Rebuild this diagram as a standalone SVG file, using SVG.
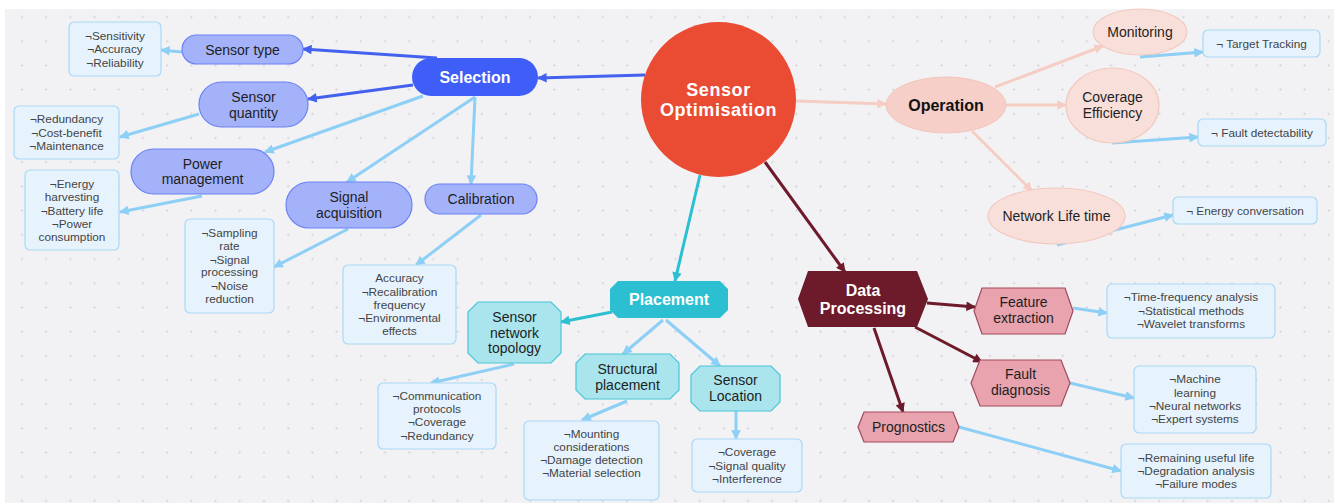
<svg xmlns="http://www.w3.org/2000/svg" width="1334" height="503" viewBox="0 0 1334 503">
<defs>
<pattern id="dots" x="9.9" y="4.9" width="24.2" height="24.2" patternUnits="userSpaceOnUse">
<circle cx="12.1" cy="12.1" r="1" fill="#cacad2"/>
</pattern>
<marker id="aBlue" viewBox="0 0 10 10" refX="9" refY="5" markerWidth="3.6" markerHeight="3.2" orient="auto"><path d="M0,0 L10,5 L0,10 z" fill="#4361ee"/></marker>
<marker id="aLight" viewBox="0 0 10 10" refX="9" refY="5" markerWidth="3.6" markerHeight="3.2" orient="auto"><path d="M0,0 L10,5 L0,10 z" fill="#8dcff5"/></marker>
<marker id="aTeal" viewBox="0 0 10 10" refX="9" refY="5" markerWidth="3.6" markerHeight="3.2" orient="auto"><path d="M0,0 L10,5 L0,10 z" fill="#2bbfd1"/></marker>
<marker id="aMaroon" viewBox="0 0 10 10" refX="9" refY="5" markerWidth="3.6" markerHeight="3.2" orient="auto"><path d="M0,0 L10,5 L0,10 z" fill="#6d1a2b"/></marker>
<marker id="aSalmon" viewBox="0 0 10 10" refX="9" refY="5" markerWidth="3.6" markerHeight="3.2" orient="auto"><path d="M0,0 L10,5 L0,10 z" fill="#f6cdc2"/></marker>
</defs>
<style>
text{font-family:"Liberation Sans",Arial,sans-serif;text-anchor:middle}
.e{fill:none;stroke-width:3;stroke-linecap:butt}
.blue{stroke:#4361ee;marker-end:url(#aBlue)}
.light{stroke:#8dcff5;marker-end:url(#aLight)}
.teal{stroke:#2bbfd1;marker-end:url(#aTeal)}
.maroon{stroke:#6d1a2b;marker-end:url(#aMaroon)}
.salmon{stroke:#f6cdc2;marker-end:url(#aSalmon)}
.pill{fill:#a4b2fa;stroke:#6c82f4;stroke-width:1.2}
.leaf{fill:#e6f3fd;stroke:#a9d8f6;stroke-width:1.2}
.oct{fill:#aae5ed;stroke:#48c6d6;stroke-width:1.2}
.hex{fill:#e8a3ae;stroke:#a2495b;stroke-width:1.2}
.ell{fill:#f8dfd9;stroke:#f3c9bf;stroke-width:1.2}
.t14{font-size:14px;fill:#1e1e1e}
.t12{font-size:11.8px;fill:#444}
.tb{font-size:16px;font-weight:bold;fill:#fff}
</style>
<rect x="0" y="0" width="1334" height="503" fill="#ffffff"/>
<rect x="5" y="9" width="1329" height="494" fill="#f2f2f5"/>
<rect x="5" y="9" width="1329" height="494" fill="url(#dots)"/>

<g id="connectors">
<line class="e blue" x1="645" y1="75" x2="538" y2="78"/>
<line class="e blue" x1="437" y1="58" x2="303" y2="49"/>
<line class="e blue" x1="413" y1="85" x2="308" y2="99"/>
<line class="e light" x1="423" y1="96" x2="265" y2="152"/>
<line class="e light" x1="475" y1="97" x2="347" y2="182"/>
<line class="e light" x1="475" y1="97" x2="471" y2="184"/>
<line class="e light" x1="182" y1="52" x2="161" y2="50"/>
<line class="e light" x1="199" y1="114" x2="120" y2="137"/>
<line class="e light" x1="202" y1="196" x2="120" y2="212"/>
<line class="e light" x1="348" y1="229" x2="274" y2="267"/>
<line class="e light" x1="481" y1="215" x2="416" y2="265"/>
<line class="e teal" x1="700" y1="175" x2="675" y2="281"/>
<line class="e teal" x1="612" y1="312" x2="561" y2="322"/>
<line class="e light" x1="663" y1="320" x2="623" y2="354"/>
<line class="e light" x1="666" y1="320" x2="720" y2="366"/>
<line class="e light" x1="514" y1="364" x2="431" y2="383"/>
<line class="e light" x1="627" y1="401" x2="582" y2="420"/>
<line class="e light" x1="736" y1="411" x2="736" y2="439"/>
<line class="e salmon" x1="796" y1="101" x2="886" y2="104"/>
<line class="e salmon" x1="995" y1="87" x2="1103" y2="46"/>
<line class="e salmon" x1="1006" y1="105" x2="1066" y2="105"/>
<line class="e salmon" x1="972" y1="131" x2="1032" y2="191"/>
<line class="e light" x1="1140" y1="57" x2="1203" y2="52"/>
<line class="e light" x1="1112" y1="143" x2="1198" y2="137"/>
<line class="e light" x1="1057" y1="245" x2="1173" y2="215"/>
<line class="e maroon" x1="765" y1="162" x2="845" y2="272"/>
<line class="e maroon" x1="927" y1="303" x2="975" y2="307"/>
<line class="e maroon" x1="915" y1="327" x2="982" y2="362"/>
<line class="e maroon" x1="874" y1="328" x2="903" y2="412"/>
<line class="e light" x1="1073" y1="308" x2="1107" y2="313"/>
<line class="e light" x1="1070" y1="383" x2="1134" y2="398"/>
<line class="e light" x1="959" y1="427" x2="1121" y2="471"/>
</g>

<g id="sensor-optimisation">
<circle cx="718.5" cy="99.5" r="77.5" fill="#ea4b33"/>
<text x="718.5" y="95.5" style="font-size:18px;font-weight:bold;fill:#fff;letter-spacing:0.6px">Sensor</text>
<text x="718.5" y="115.5" style="font-size:18px;font-weight:bold;fill:#fff;letter-spacing:0.6px">Optimisation</text>
</g>

<g id="selection">
<rect x="412" y="58" width="126" height="38" rx="19" fill="#3f5ef7"/>
<text class="tb" x="475" y="83">Selection</text>
</g>
<g id="sensor-type">
<rect class="pill" x="182" y="35" width="121" height="29" rx="14.5"/>
<text class="t14" x="242.5" y="54.5">Sensor type</text>
</g>
<g id="sensor-quantity">
<rect class="pill" x="199" y="82" width="109" height="45" rx="22.5"/>
<text class="t14" x="253.5" y="102">Sensor</text>
<text class="t14" x="253.5" y="117.5">quantity</text>
</g>
<g id="power-management">
<rect class="pill" x="131" y="149" width="143" height="45" rx="22.5"/>
<text class="t14" x="202.5" y="168.5">Power</text>
<text class="t14" x="202.5" y="184">management</text>
</g>
<g id="signal-acquisition">
<rect class="pill" x="286" y="182" width="126" height="46" rx="23"/>
<text class="t14" x="349" y="202">Signal</text>
<text class="t14" x="349" y="217.5">acquisition</text>
</g>
<g id="calibration">
<rect class="pill" x="425" y="184" width="112" height="30" rx="15"/>
<text class="t14" x="481" y="204">Calibration</text>
</g>
<g id="leaf-sensor-type">
<rect class="leaf" x="69" y="22" width="92" height="54" rx="5"/>
<text class="t12" x="115" y="40">¬Sensitivity</text>
<text class="t12" x="115" y="53">¬Accuracy</text>
<text class="t12" x="115" y="66.5">¬Reliability</text>
</g>
<g id="leaf-sensor-quantity">
<rect class="leaf" x="14" y="106" width="105" height="53" rx="5"/>
<text class="t12" x="66.5" y="123">¬Redundancy</text>
<text class="t12" x="66.5" y="136.5">¬Cost-benefit</text>
<text class="t12" x="66.5" y="150">¬Maintenance</text>
</g>
<g id="leaf-power">
<rect class="leaf" x="25" y="170" width="94" height="80" rx="5"/>
<text class="t12" x="72" y="188">¬Energy</text>
<text class="t12" x="72" y="201">harvesting</text>
<text class="t12" x="72" y="214.5">¬Battery life</text>
<text class="t12" x="72" y="228">¬Power</text>
<text class="t12" x="72" y="241">consumption</text>
</g>
<g id="leaf-signal">
<rect class="leaf" x="185" y="219" width="89" height="94" rx="5"/>
<text class="t12" x="229.5" y="237">¬Sampling</text>
<text class="t12" x="229.5" y="250">rate</text>
<text class="t12" x="229.5" y="263.5">¬Signal</text>
<text class="t12" x="229.5" y="276">processing</text>
<text class="t12" x="229.5" y="289.5">¬Noise</text>
<text class="t12" x="229.5" y="302.5">reduction</text>
</g>
<g id="leaf-calibration">
<rect class="leaf" x="343" y="265" width="113" height="79" rx="5"/>
<text class="t12" x="399.5" y="282">Accuracy</text>
<text class="t12" x="399.5" y="295.5">¬Recalibration</text>
<text class="t12" x="399.5" y="308.5">frequency</text>
<text class="t12" x="399.5" y="321.5">¬Environmental</text>
<text class="t12" x="399.5" y="335">effects</text>
</g>

<g id="placement">
<polygon points="618,281 720,281 728,289 728,310 720,318 618,318 610,310 610,289" fill="#2bbfd1"/>
<text class="tb" x="669" y="305">Placement</text>
</g>
<g id="sensor-network-topology">
<polygon class="oct" points="478,302 551,302 561,312 561,353 551,363 478,363 468,353 468,312"/>
<text class="t14" x="514.5" y="322">Sensor</text>
<text class="t14" x="514.5" y="337.5">network</text>
<text class="t14" x="514.5" y="353">topology</text>
</g>
<g id="structural-placement">
<polygon class="oct" points="585,354 670,354 679,363 679,390 670,399 585,399 576,390 576,363"/>
<text class="t14" x="627.5" y="374">Structural</text>
<text class="t14" x="627.5" y="389.5">placement</text>
</g>
<g id="sensor-location">
<polygon class="oct" points="700,366 771,366 780,375 780,402 771,411 700,411 691,402 691,375"/>
<text class="t14" x="735.5" y="385">Sensor</text>
<text class="t14" x="735.5" y="401">Location</text>
</g>
<g id="leaf-topology">
<rect class="leaf" x="378" y="383" width="118" height="66" rx="5"/>
<text class="t12" x="437" y="400">¬Communication</text>
<text class="t12" x="437" y="413">protocols</text>
<text class="t12" x="437" y="426">¬Coverage</text>
<text class="t12" x="437" y="439.5">¬Redundancy</text>
</g>
<g id="leaf-structural">
<rect class="leaf" x="524" y="421" width="135" height="79" rx="5"/>
<text class="t12" x="591.5" y="438">¬Mounting</text>
<text class="t12" x="591.5" y="451">considerations</text>
<text class="t12" x="591.5" y="464">¬Damage detection</text>
<text class="t12" x="591.5" y="477">¬Material selection</text>
</g>
<g id="leaf-location">
<rect class="leaf" x="692" y="439" width="110" height="53" rx="5"/>
<text class="t12" x="747" y="456">¬Coverage</text>
<text class="t12" x="747" y="469.5">¬Signal quality</text>
<text class="t12" x="747" y="483">¬Interference</text>
</g>

<g id="operation">
<ellipse cx="946" cy="105" rx="60" ry="28" fill="#f6d0c8" stroke="#f3c4b9" stroke-width="1"/>
<text x="946" y="110.5" style="font-size:16px;font-weight:bold;fill:#111">Operation</text>
</g>
<g id="monitoring">
<ellipse class="ell" cx="1140" cy="32" rx="47" ry="23"/>
<text class="t14" x="1140" y="37">Monitoring</text>
</g>
<g id="coverage-efficiency">
<ellipse class="ell" cx="1112.5" cy="105.5" rx="46.5" ry="37.5"/>
<text class="t14" x="1112.5" y="102">Coverage</text>
<text class="t14" x="1112.5" y="118">Efficiency</text>
</g>
<g id="network-life-time">
<ellipse class="ell" cx="1056.5" cy="216" rx="68.5" ry="28"/>
<text class="t14" x="1056.5" y="221">Network Life time</text>
</g>
<g id="leaf-monitoring">
<rect class="leaf" x="1203" y="30" width="117" height="27" rx="5"/>
<text class="t12" x="1261.5" y="48">¬ Target Tracking</text>
</g>
<g id="leaf-coverage">
<rect class="leaf" x="1198" y="119" width="128" height="27" rx="5"/>
<text class="t12" x="1262" y="137">¬ Fault detectability</text>
</g>
<g id="leaf-network">
<rect class="leaf" x="1173" y="197" width="144" height="27" rx="5"/>
<text class="t12" x="1245" y="214.5">¬ Energy conversation</text>
</g>

<g id="data-processing">
<polygon points="798,299 808,271 917,271 928,299 917,327 808,327" fill="#6d1a2b"/>
<text class="tb" x="863" y="296">Data</text>
<text class="tb" x="863" y="314">Processing</text>
</g>
<g id="feature-extraction">
<polygon class="hex" points="974,311 982,288 1065,288 1073,311 1065,334 982,334"/>
<text class="t14" x="1023.5" y="307">Feature</text>
<text class="t14" x="1023.5" y="323">extraction</text>
</g>
<g id="fault-diagnosis">
<polygon class="hex" points="971,383 980,360 1061,360 1070,383 1061,406 980,406"/>
<text class="t14" x="1020.5" y="379">Fault</text>
<text class="t14" x="1020.5" y="395">diagnosis</text>
</g>
<g id="prognostics">
<polygon class="hex" points="858,427 864,412 953,412 959,427 953,442 864,442"/>
<text class="t14" x="908.5" y="431.5">Prognostics</text>
</g>
<g id="leaf-feature">
<rect class="leaf" x="1107" y="284" width="168" height="54" rx="5"/>
<text class="t12" x="1191" y="301">¬Time-frequency analysis</text>
<text class="t12" x="1191" y="315">¬Statistical methods</text>
<text class="t12" x="1191" y="328">¬Wavelet transforms</text>
</g>
<g id="leaf-fault">
<rect class="leaf" x="1134" y="366" width="122" height="67" rx="5"/>
<text class="t12" x="1195" y="383">¬Machine</text>
<text class="t12" x="1195" y="396.5">learning</text>
<text class="t12" x="1195" y="410">¬Neural networks</text>
<text class="t12" x="1195" y="423">¬Expert systems</text>
</g>
<g id="leaf-prognostics">
<rect class="leaf" x="1121" y="444" width="150" height="54" rx="5"/>
<text class="t12" x="1196" y="462">¬Remaining useful life</text>
<text class="t12" x="1196" y="475">¬Degradation analysis</text>
<text class="t12" x="1196" y="488">¬Failure modes</text>
</g>
</svg>
